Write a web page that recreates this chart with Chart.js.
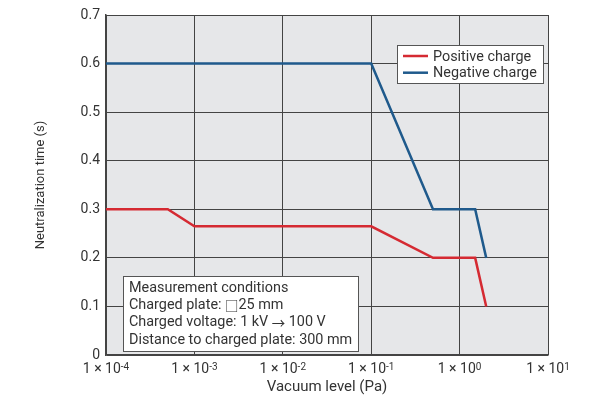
<!DOCTYPE html>
<html>
<head>
<meta charset="utf-8">
<script src="https://cdn.jsdelivr.net/npm/chart.js@4/dist/chart.umd.min.js"></script>
<style>
  html, body { margin: 0; padding: 0; background: #fff; }
  #wrap { width: 602px; height: 403px; }
</style>
</head>
<body>
<div id="wrap"><canvas id="neutChart"></canvas></div>
<script>
// data
const seriesNames = ['Positive charge', 'Negative charge'];
const positiveX = [1e-4, 5e-4, 1e-3, 1e-1, 0.5, 1.5, 2.0];
const positiveY = [0.3, 0.3, 0.265, 0.265, 0.2, 0.2, 0.1];
const negativeX = [1e-4, 1e-1, 0.5, 1.5, 2.0];
const negativeY = [0.6, 0.6, 0.3, 0.3, 0.2];
const xTickExponents = [-4, -3, -2, -1, 0, 1];
const yTicks = [0, 0.1, 0.2, 0.3, 0.4, 0.5, 0.6, 0.7];
const noteLines = [
  'Measurement conditions',
  'Charged plate: \u25A125 mm',
  'Charged voltage: 1 kV \u2192 100 V',
  'Distance to charged plate: 300 mm'
];

const FONT = 'Roboto, "Noto Sans", sans-serif';
const CJK = '"Noto Sans CJK JP", ' + FONT;
const TXT = '#333333';

function pts(xs, ys) {
  return xs.map((x, i) => ({ x: x, y: ys[i] }));
}

// draw text, with the square and arrow symbols taken from the CJK font
function drawMixed(ctx, text, x, y, size) {
  const parts = text.split(/([\u25A1\u2192])/);
  parts.forEach(p => {
    if (!p) return;
    const sym = p === '\u25A1' || p === '\u2192';
    ctx.font = (sym ? size - 1 : size) + 'px ' + (sym ? CJK : FONT);
    ctx.fillText(p, x, y);
    x += ctx.measureText(p).width;
  });
}

// gray plot background
const bgPlugin = {
  id: 'bg',
  beforeDraw(chart) {
    const a = chart.chartArea, ctx = chart.ctx;
    ctx.save();
    ctx.fillStyle = '#e6e7e9';
    ctx.fillRect(a.left, a.top, a.right - a.left, a.bottom - a.top);
    ctx.restore();
  }
};

// x tick labels with superscript exponents, legend box and note box
const overlayPlugin = {
  id: 'overlay',
  afterDraw(chart) {
    const ctx = chart.ctx, xs = chart.scales.x, a = chart.chartArea;
    ctx.save();
    ctx.fillStyle = TXT;
    ctx.textBaseline = 'alphabetic';
    xTickExponents.forEach(e => {
      const px = xs.getPixelForValue(Math.pow(10, e));
      ctx.font = '14px ' + FONT;
      const base = '1 \u00D7 10';
      const wb = ctx.measureText(base).width;
      ctx.font = '10px ' + FONT;
      const sup = String(e);
      const ws = ctx.measureText(sup).width;
      const x0 = px - (wb + ws) / 2;
      ctx.font = '14px ' + FONT;
      ctx.textAlign = 'left';
      ctx.fillText(base, x0, a.bottom + 18);
      ctx.font = '10px ' + FONT;
      ctx.fillText(sup, x0 + wb, a.bottom + 14.5);
    });

    // legend
    const lx = 397, ly = 45, lw = 146, lh = 38;
    ctx.fillStyle = '#ffffff';
    ctx.fillRect(lx, ly, lw, lh);
    ctx.strokeStyle = '#555555';
    ctx.lineWidth = 1;
    ctx.strokeRect(lx + 0.5, ly + 0.5, lw, lh);
    chart.data.datasets.forEach((ds, i) => {
      const yy = ly + 11 + i * 16.7;
      ctx.strokeStyle = ds.borderColor;
      ctx.lineWidth = 2.5;
      ctx.beginPath();
      ctx.moveTo(lx + 6, yy);
      ctx.lineTo(lx + 31, yy);
      ctx.stroke();
      ctx.fillStyle = TXT;
      ctx.font = '14.4px ' + FONT;
      ctx.textAlign = 'left';
      ctx.textBaseline = 'middle';
      ctx.fillText(ds.label, lx + 36, yy + 1);
    });

    // note box
    const nx = 123, ny = 276, nw = 235, nh = 75;
    ctx.fillStyle = '#ffffff';
    ctx.fillRect(nx, ny, nw, nh);
    ctx.strokeStyle = '#555555';
    ctx.lineWidth = 1;
    ctx.strokeRect(nx + 0.5, ny + 0.5, nw, nh);
    ctx.fillStyle = TXT;
    ctx.textAlign = 'left';
    ctx.textBaseline = 'middle';
    noteLines.forEach((t, i) => {
      drawMixed(ctx, t, nx + 6, ny + 12.5 + i * 17.2, 14.4);
    });
    ctx.restore();
  }
};

const data = {
  datasets: [
    {
      label: seriesNames[0],
      data: pts(positiveX, positiveY),
      borderColor: '#d52a32',
      borderWidth: 2.5,
      pointRadius: 0,
      tension: 0
    },
    {
      label: seriesNames[1],
      data: pts(negativeX, negativeY),
      borderColor: '#1f5a8c',
      borderWidth: 2.5,
      pointRadius: 0,
      tension: 0
    }
  ]
};

const config = {
  type: 'line',
  data,
  options: {
    responsive: true,
    maintainAspectRatio: false,
    animation: false,
    layout: { padding: { top: 15, right: 54, left: 0, bottom: 0 } },
    plugins: {
      legend: { display: false },
      tooltip: { enabled: false }
    },
    scales: {
      x: {
        type: 'logarithmic',
        min: 1e-4,
        max: 10,
        afterBuildTicks(scale) {
          scale.ticks = xTickExponents.map(e => ({ value: Math.pow(10, e), major: true }));
        },
        afterFit(scale) { scale.height = 48; },
        grid: { color: '#444444', lineWidth: 1, drawTicks: false },
        border: { color: '#444444', width: 1.5 },
        ticks: { callback: () => '', padding: 4, font: { size: 14, family: FONT } },
        title: {
          display: true,
          text: 'Vacuum level (Pa)',
          color: TXT,
          font: { size: 15, family: FONT },
          padding: { top: 0, bottom: 6.5 }
        }
      },
      y: {
        type: 'linear',
        min: 0,
        max: 0.7,
        afterBuildTicks(scale) {
          scale.ticks = yTicks.map(v => ({ value: v }));
        },
        afterFit(scale) { scale.width = 106; },
        grid: { color: '#444444', lineWidth: 1, drawTicks: false },
        border: { color: '#444444', width: 1.5 },
        ticks: {
          color: TXT,
          padding: 6,
          font: { size: 14, family: FONT },
          callback: v => String(v)
        },
        title: {
          display: true,
          text: 'Neutralization time (s)',
          color: TXT,
          font: { size: 13, family: FONT },
          padding: { top: 33, bottom: 0 }
        }
      }
    }
  },
  plugins: [bgPlugin, overlayPlugin]
};

const neutChart = new Chart(document.getElementById('neutChart'), config);
</script>
</body>
</html>
